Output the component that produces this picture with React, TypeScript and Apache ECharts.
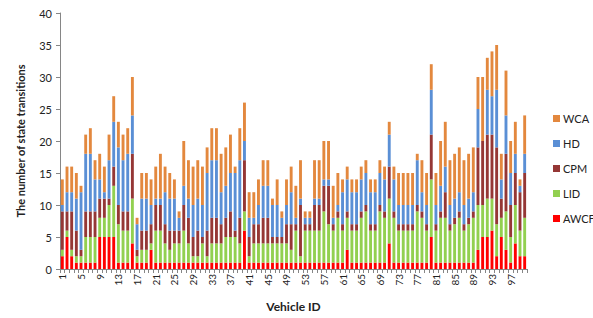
import React, { useEffect, useRef } from "react";
import * as echarts from "echarts";

const vehicleIds: string[] = Array.from({ length: 100 }, (_, i) => String(i + 1));

const awcf = [2,5,2,1,1,1,1,1,5,5, 5,5,1,1,1,4,1,1,1,3, 1,1,1,1,1,1,1,1,1,1, 1,1,1,1,1,1,1,1,1,6, 1,1,1,1,1,1,1,1,1,1, 1,1,1,1,1,1,1,1,1,1, 1,3,1,1,1,1,1,1,1,1, 4,1,1,1,1,1,1,1,1,5, 1,1,1,1,1,1,1,1,1,3, 5,5,6,2,5,3,1,4,2,2];
const lid = [1,1,1,1,1,4,4,4,3,3, 5,8,6,5,5,7,1,2,2,1, 5,5,3,2,3,3,5,3,1,1, 3,1,3,3,3,4,4,4,3,3, 1,3,3,3,3,3,3,3,3,2, 5,1,5,5,5,5,8,6,5,7, 5,5,5,5,7,8,5,5,8,7, 7,7,5,5,5,5,8,7,5,9, 5,7,7,5,6,7,5,6,7,7, 5,6,5,5,3,6,4,6,4,6];
const cpm = [6,3,6,4,1,4,4,4,3,3, 1,3,3,3,3,7,1,3,3,3, 4,4,3,3,2,2,4,4,3,4, 1,4,4,4,3,3,4,1,4,8, 3,3,3,4,4,1,1,1,3,4, 1,8,1,1,4,4,4,6,1,1, 1,1,1,1,1,1,1,1,1,1, 5,1,1,1,1,1,1,1,1,7, 1,1,4,1,1,1,1,1,1,9, 10,10,10,12,3,9,5,5,6,7];
const hd = [1,3,3,5,9,9,9,5,3,1, 6,7,9,8,9,6,4,5,5,3, 1,1,5,5,5,2,3,3,5,5, 5,9,9,9,5,5,6,9,9,3, 3,1,3,5,5,5,5,3,3,5, 1,1,1,1,1,1,1,1,1,1, 5,5,5,5,5,5,5,5,5,5, 5,5,3,3,3,3,7,3,3,7, 3,4,4,3,3,3,3,3,3,6, 0,7,6,9,3,6,5,3,1,3];
const wca = [4,4,4,4,1,3,4,3,4,4, 4,4,4,4,4,6,1,4,4,4, 5,7,4,4,3,1,7,6,6,6, 6,4,5,5,6,6,6,1,5,6, 4,4,4,4,4,1,4,1,4,4, 5,6,1,1,6,6,6,6,5,5, 2,2,2,2,2,2,2,2,2,2, 2,2,5,5,5,5,1,5,5,4, 5,7,7,7,7,7,7,7,7,5, 10,5,7,7,4,7,5,5,1,6];

const yTicks = { min: 0, max: 40, interval: 5 };

const seriesDefs = [
  { name: "AWCF", data: awcf, color: "#FF0000" },
  { name: "LID", data: lid, color: "#92D050" },
  { name: "CPM", data: cpm, color: "#953735" },
  { name: "HD", data: hd, color: "#5A8FD5" },
  { name: "WCA", data: wca, color: "#E3883E" },
];

const legendOrder = ["WCA", "HD", "CPM", "LID", "AWCF"];

const FONT = "Lato, 'Open Sans', sans-serif";

export default function App() {
  const ref = useRef<HTMLDivElement>(null);
  useEffect(() => {
    if (!ref.current) return;
    const chart = echarts.init(ref.current, null, { renderer: "svg" });
    chart.setOption({
      animation: false,
      backgroundColor: "#ffffff",
      textStyle: { fontFamily: FONT },
      grid: { left: 60, right: 66, top: 13, bottom: 49, containLabel: false },
      legend: {
        orient: "vertical",
        left: 548,
        top: 108,
        itemWidth: 7,
        itemHeight: 7,
        itemGap: 14,
        icon: "rect",
        data: legendOrder,
        textStyle: { fontFamily: FONT, fontSize: 11, color: "#222", padding: [0, 0, 0, -2] },
      },
      xAxis: {
        type: "category",
        data: vehicleIds,
        boundaryGap: true,
        name: "Vehicle ID",
        nameLocation: "middle",
        nameGap: 31,
        nameTextStyle: { fontFamily: FONT, fontSize: 12, fontWeight: "bold", color: "#222" },
        axisLine: { lineStyle: { color: "#868686", width: 1 } },
        axisTick: { show: true, interval: 0, length: 4, lineStyle: { color: "#868686" } },
        axisLabel: { interval: 3, rotate: 90, fontSize: 10, color: "#222", margin: 5, fontFamily: FONT },
        splitLine: { show: false },
      },
      yAxis: {
        type: "value",
        min: yTicks.min,
        max: yTicks.max,
        interval: yTicks.interval,
        name: "The number of state transitions",
        nameLocation: "middle",
        nameRotate: 90,
        nameGap: 34,
        nameTextStyle: { fontFamily: FONT, fontSize: 11, fontWeight: "bold", color: "#222" },
        axisLine: { show: true, lineStyle: { color: "#868686", width: 1 } },
        axisTick: { show: true, length: 4, lineStyle: { color: "#868686" } },
        axisLabel: { fontSize: 11, color: "#222", margin: 8, fontFamily: FONT },
        splitLine: { show: false },
      },
      series: seriesDefs.map((s) => ({
        name: s.name,
        type: "bar",
        stack: "total",
        data: s.data,
        barWidth: "62%",
        itemStyle: { color: s.color },
      })),
    });
    return () => chart.dispose();
  }, []);
  return (
    <div
      ref={ref}
      style={{ position: "fixed", left: 0, top: 0, width: 593, height: 318, background: "#fff" }}
    />
  );
}
